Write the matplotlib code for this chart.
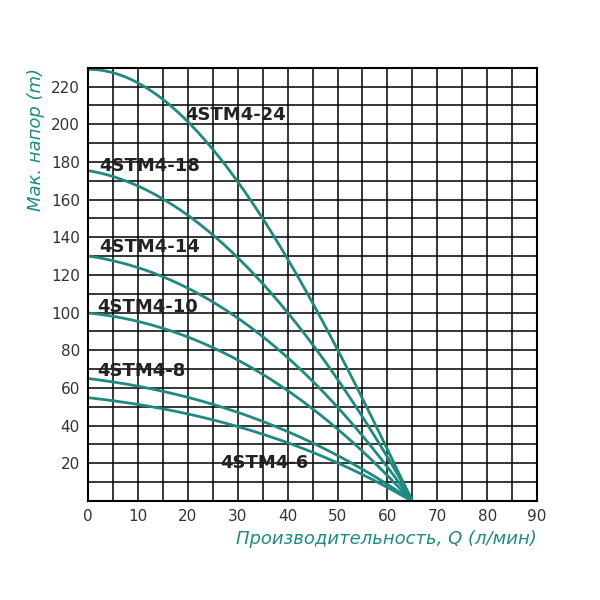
import matplotlib
matplotlib.use("Agg")
import matplotlib.pyplot as plt
import numpy as np

q = [0, 10, 20, 30, 40, 50, 60, 65]
h24 = [230, 220, 202, 170, 130, 78, 28, 0]
h18 = [175, 168, 152, 128, 100, 65, 24, 0]
h14 = [130, 124, 113, 97, 76, 50, 18, 0]
h10 = [100, 95, 87, 75, 59, 38, 13, 0]
h8 = [65, 61, 55, 47, 37, 24, 9, 0]
h6 = [55, 51, 46, 40, 31, 20, 7, 0]
series = [h24, h18, h14, h10, h8, h6]
names = ["4STM4-24", "4STM4-18", "4STM4-14", "4STM4-10", "4STM4-8", "4STM4-6"]
label_pos = [(19.5, 205), (2.2, 178), (2.2, 135), (1.8, 103), (1.8, 69), (26.5, 20)]
xticks = [0, 10, 20, 30, 40, 50, 60, 70, 80, 90]
yticks = [20, 40, 60, 80, 100, 120, 140, 160, 180, 200, 220]
teal = "#1f8a80"

fig = plt.figure(figsize=(6, 6), dpi=100)
ax = fig.add_axes([0.147, 0.165, 0.748, 0.722])
ax.set_xlim(0, 90)
ax.set_ylim(0, 230)
ax.set_xticks(np.arange(0, 91, 5), minor=True)
ax.set_yticks(np.arange(0, 231, 10), minor=True)
ax.set_xticks(xticks)
ax.set_yticks(yticks)
ax.grid(True, which="both", color="black", lw=1.1)
ax.set_axisbelow(True)
for s in ax.spines.values():
    s.set_linewidth(1.5)
ax.tick_params(which="both", length=0, labelsize=11, colors="#333333", pad=6)

qx = np.array(q, float)
for h in series:
    c = np.polyfit(qx, np.array(h, float), 3)
    xs = np.linspace(0, 65, 200)
    ys = np.polyval(c, xs)
    ys[-1] = 0
    ax.plot(xs, ys, color=teal, lw=2)
for n, (x, y) in zip(names, label_pos):
    ax.text(x, y, n, fontsize=13, fontweight="bold", color="#222222", va="center")

ax.set_xlabel("Производительность, Q (л/мин)", color=teal, style="italic", fontsize=13, loc="right")
ax.set_ylabel("Мак. напор (m)", color=teal, style="italic", fontsize=13, loc="top")
fig.savefig("out.png")
